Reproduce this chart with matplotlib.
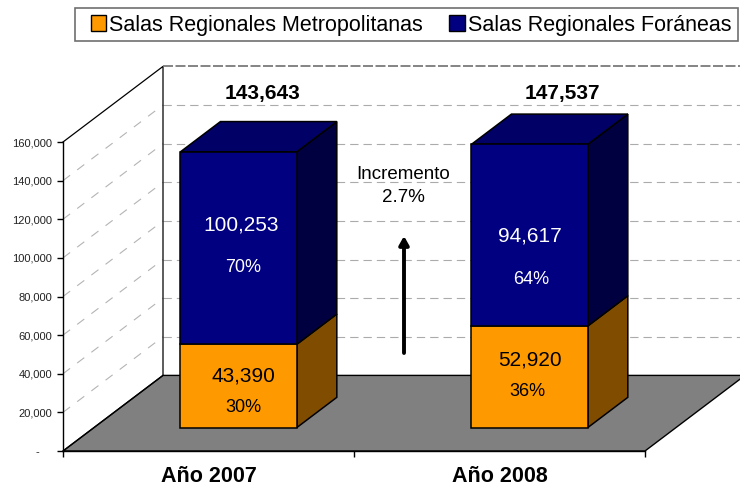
import matplotlib
matplotlib.use('Agg')
import matplotlib.pyplot as plt
from matplotlib.patches import Polygon, Patch, Rectangle

plt.rcParams['font.family'] = ['Liberation Sans', 'DejaVu Sans']

years = ['Año 2007', 'Año 2008']
metropolitanas = [43390, 52920]
foraneas = [100253, 94617]
pct_metro = ['30%', '36%']
pct_foran = ['70%', '64%']
yticks = [0, 20000, 40000, 60000, 80000, 100000, 120000, 140000, 160000]
legend_labels = ['Salas Regionales Metropolitanas', 'Salas Regionales Foráneas']
incremento = ['Incremento', '2.7%']

W, H = 740, 487
fig = plt.figure(figsize=(W / 100, H / 100), dpi=100)
ax = fig.add_axes([63 / W, (H - 451) / H, 582 / W, 309 / H])
ax.set_xlim(0, 2)
ax.set_ylim(0, 160000)
ax.patch.set_alpha(0)

# oblique projection, depth d runs from 0 (front) to 1 (back wall)
DX = 100 / 291
DY = 75.6 * 160000 / 309
BAR_SCALE = 0.994


def proj(cat, val, d):
    return (cat + d * DX, val + d * DY)


def poly(pts, color, z, edge='black', lw=1.1):
    ax.add_patch(Polygon(pts, closed=True, facecolor=color, edgecolor=edge,
                         linewidth=lw, clip_on=False, zorder=z, joinstyle='miter'))


def txt(x, y, s, **kw):
    fig.text(x / W, 1 - y / H, s, ha='center', va='center', **kw)


# floor
poly([proj(0, 0, 0), proj(2, 0, 0), proj(2, 0, 1), proj(0, 0, 1)], '#808080', 1, lw=1.0)

# walls and gridlines
for v in yticks[1:-1]:
    a = proj(0, v, 0)
    b = proj(0, v, 1)
    c = proj(2, v, 1)
    ax.plot([a[0], b[0]], [a[1], b[1]], color='#B4B4B4', lw=0.8, ls=(0, (8, 8)), clip_on=False, zorder=0.5)
    ax.plot([b[0], c[0]], [b[1], c[1]], color='#ABABAB', lw=0.8, ls=(0, (7.5, 4.5)), clip_on=False, zorder=0.5)

top = yticks[-1]
pts = [proj(0, top, 0), proj(0, top, 1), proj(0, 0, 1)]
ax.plot([p[0] for p in pts], [p[1] for p in pts], color='black', lw=0.9, clip_on=False, zorder=2)
a, b = proj(0, 0, 0), proj(0, 0, 1)
ax.plot([a[0], b[0]], [a[1], b[1]], color='black', lw=0.9, clip_on=False, zorder=2)
a, b = proj(0, top, 1), proj(2, top, 1)
ax.plot([a[0], b[0]], [a[1], b[1]], color='#707070', lw=1.2, ls=(0, (6, 1.5)), clip_on=False, zorder=2)

# bars
d0, d1 = 0.31, 0.71
bar_w = 0.40
for i in range(len(years)):
    x0 = i + 0.297
    x1 = x0 + bar_w
    m = metropolitanas[i] * BAR_SCALE
    t = (metropolitanas[i] + foraneas[i]) * BAR_SCALE
    z = 3 + i
    poly([proj(x1, 0, d0), proj(x1, 0, d1), proj(x1, m, d1), proj(x1, m, d0)], '#7F4C00', z)
    poly([proj(x1, m, d0), proj(x1, m, d1), proj(x1, t, d1), proj(x1, t, d0)], '#000040', z)
    poly([proj(x0, t, d0), proj(x1, t, d0), proj(x1, t, d1), proj(x0, t, d1)], '#000066', z)
    poly([proj(x0, 0, d0), proj(x1, 0, d0), proj(x1, m, d0), proj(x0, m, d0)], '#FF9900', z)
    poly([proj(x0, m, d0), proj(x1, m, d0), proj(x1, t, d0), proj(x0, t, d0)], '#000080', z)

# axes
for s in ['top', 'right']:
    ax.spines[s].set_visible(False)
for s in ['left', 'bottom']:
    ax.spines[s].set_linewidth(1.0)
    ax.spines[s].set_zorder(6)
ax.set_yticks(yticks)
ax.set_yticklabels(['-    ' if v == 0 else f'{v:,}' for v in yticks], fontsize=8, color='#222222')
ax.tick_params(axis='y', length=4.5, width=1.0, pad=3.5)
ax.set_xticks([0, 1, 2])
ax.set_xticklabels([])
ax.tick_params(axis='x', length=4.5, width=1.0)
ax.set_xticks([0.5, 1.5], minor=True)
ax.set_xticklabels(years, minor=True, fontsize=15.5, fontweight='bold')
ax.tick_params(axis='x', which='minor', length=0, pad=11)

# value labels
total_x = [262, 562]
total_y = [93, 93]
val_x = [241, 530]
for i in range(len(years)):
    txt(total_x[i], total_y[i], f'{metropolitanas[i] + foraneas[i]:,}', fontsize=15, fontweight='bold', color='black')
txt(val_x[0], 225, f'{foraneas[0]:,}', fontsize=15, color='white')
txt(243, 267, pct_foran[0], fontsize=13, color='white')
txt(243, 376, f'{metropolitanas[0]:,}', fontsize=15, color='black')
txt(243, 408, pct_metro[0], fontsize=13, color='black')
txt(val_x[1], 236, f'{foraneas[1]:,}', fontsize=15, color='white')
txt(531, 279, pct_foran[1], fontsize=13, color='white')
txt(val_x[1], 360, f'{metropolitanas[1]:,}', fontsize=15, color='black')
txt(527, 392, pct_metro[1], fontsize=13, color='black')

txt(403, 174, incremento[0], fontsize=13.5, color='black')
txt(403, 197, incremento[1], fontsize=13.5, color='black')

# arrow
arrow_ax = fig.add_axes([0, 0, 1, 1], facecolor='none')
arrow_ax.set_axis_off()
arrow_ax.set_xlim(0, W)
arrow_ax.set_ylim(H, 0)
arrow_ax.annotate('', xy=(404, 236), xytext=(404, 353),
                  arrowprops=dict(arrowstyle='-|>,head_width=0.28,head_length=0.5',
                                  lw=2.8, color='black', shrinkA=0, shrinkB=0))

# legend, frame drawn separately for its uneven padding
arrow_ax.add_patch(Rectangle((75, 8), 663, 33, facecolor='white', edgecolor='#707070', lw=1.2))
handles = [Patch(facecolor='#FF9900', edgecolor='black', lw=1.0),
           Patch(facecolor='#000080', edgecolor='black', lw=1.0)]
fig.legend(handles, legend_labels, ncol=2, loc='center',
           bbox_to_anchor=(411 / W, 1 - 25 / H), fontsize=15.5, frameon=False,
           borderpad=0, handlelength=0.72, handleheight=0.72, handletextpad=0.14,
           columnspacing=1.22, borderaxespad=0)

fig.savefig('out.png', dpi=100)
